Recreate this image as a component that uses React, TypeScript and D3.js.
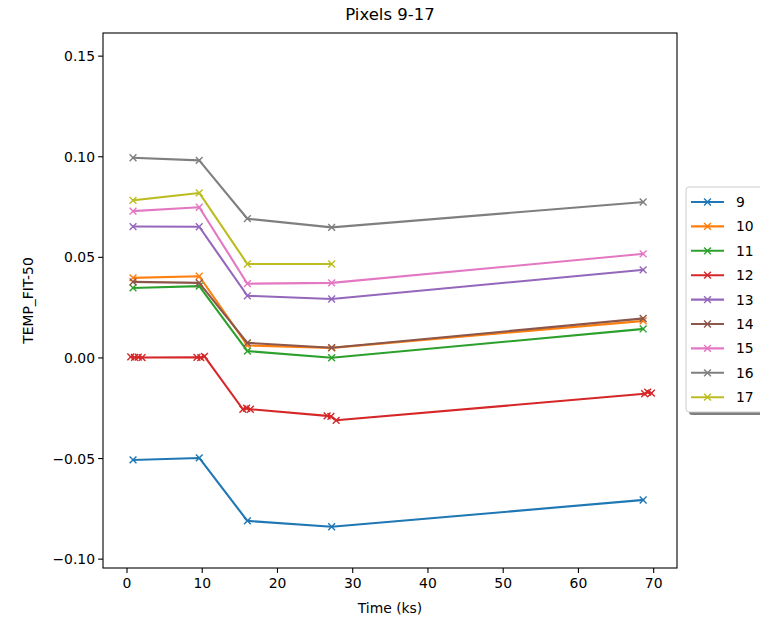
import React from "react";
import * as d3 from "d3";

const TITLE = "Pixels 9-17";
const X_LABEL = "Time (ks)";
const Y_LABEL = "TEMP_FIT-50";

const seriesNames = ["9", "10", "11", "12", "13", "14", "15", "16", "17"];
const colors = ["#1f77b4", "#ff7f0e", "#2ca02c", "#d62728", "#9467bd", "#8c564b", "#e377c2", "#7f7f7f", "#bcbd22"];

const timesStd = [0.8, 9.6, 16.0, 27.2, 68.6];
const times17 = [0.8, 9.6, 16.0, 27.2];
const times12 = [0.5, 1.0, 1.5, 2.0, 9.3, 9.8, 10.3, 15.4, 15.9, 16.4, 26.6, 27.1, 27.8, 68.8, 69.2, 69.7];

const vals9 = [-0.0507, -0.0497, -0.081, -0.0839, -0.0706];
const vals10 = [0.0398, 0.0406, 0.0062, 0.005, 0.0184];
const vals11 = [0.0348, 0.0357, 0.0034, 0.0001, 0.0144];
const vals12 = [0.0005, 0.0003, 0.0004, 0.0002, 0.0003, 0.0002, 0.0008, -0.0255, -0.025, -0.0255, -0.0288, -0.029, -0.031, -0.0178, -0.017, -0.0175];
const vals13 = [0.0653, 0.0652, 0.0309, 0.0293, 0.0438];
const vals14 = [0.0378, 0.0373, 0.0075, 0.0051, 0.0196];
const vals15 = [0.073, 0.0749, 0.0369, 0.0373, 0.0517];
const vals16 = [0.0995, 0.0982, 0.0692, 0.0649, 0.0775];
const vals17 = [0.0783, 0.082, 0.0467, 0.0467];

const xTicks = [0, 10, 20, 30, 40, 50, 60, 70];
const yTicks = [-0.1, -0.05, 0, 0.05, 0.1, 0.15];

const seriesTimes = [timesStd, timesStd, timesStd, times12, timesStd, timesStd, timesStd, timesStd, times17];
const seriesVals = [vals9, vals10, vals11, vals12, vals13, vals14, vals15, vals16, vals17];

const W = 760, H = 620;
const L = 103, R = 677, T = 33, B = 568;
const FONT = "DejaVu Sans, sans-serif";

export default function App() {
  const x = d3.scaleLinear().domain([-3.19, 73.1]).range([L, R]);
  const y = d3.scaleLinear().domain([-0.1044, 0.1615]).range([B, T]);
  const line = d3.line<[number, number]>().x((d) => x(d[0])).y((d) => y(d[1]));
  const ms = 3.4;
  const marker = (cx: number, cy: number, c: string, k: string) => (
    <path key={k} d={`M${cx - ms},${cy - ms}L${cx + ms},${cy + ms}M${cx - ms},${cy + ms}L${cx + ms},${cy - ms}`} stroke={c} strokeWidth={1.4} fill="none" />
  );
  const legX = 686, legY = 187, legH = 225, legW = 82, rowH = 24.4;
  return (
    <svg width={W} height={H} style={{ position: "absolute", left: 0, top: 0 }} fontFamily={FONT}>
      <rect x={0} y={0} width={W} height={H} fill="#fff" />
      <text x={(L + R) / 2} y={20} textAnchor="middle" fontSize={16.5} fill="#000">{TITLE}</text>
      <defs>
        <clipPath id="plotclip"><rect x={L} y={T} width={R - L} height={B - T} /></clipPath>
      </defs>
      <g clipPath="url(#plotclip)">
        {seriesVals.map((vals, i) => {
          const pts: [number, number][] = vals.map((v, j) => [seriesTimes[i][j], v]);
          return (
            <g key={i}>
              <path d={line(pts) || ""} stroke={colors[i]} strokeWidth={2.1} fill="none" strokeLinejoin="round" strokeLinecap="square" />
              {pts.map((p, j) => marker(x(p[0]), y(p[1]), colors[i], `${i}-${j}`))}
            </g>
          );
        })}
      </g>
      <rect x={L} y={T} width={R - L} height={B - T} fill="none" stroke="#000" strokeWidth={1.1} />
      {xTicks.map((t) => (
        <g key={t}>
          <line x1={x(t)} x2={x(t)} y1={B} y2={B + 4.9} stroke="#000" strokeWidth={1.1} />
          <text x={x(t)} y={B + 20} textAnchor="middle" fontSize={13.9} fill="#000">{t}</text>
        </g>
      ))}
      {yTicks.map((t) => (
        <g key={t}>
          <line x1={L - 4.9} x2={L} y1={y(t)} y2={y(t)} stroke="#000" strokeWidth={1.1} />
          <text x={L - 8} y={y(t) + 5} textAnchor="end" fontSize={13.9} fill="#000">{t < 0 ? "\u2212" + Math.abs(t).toFixed(2) : t.toFixed(2)}</text>
        </g>
      ))}
      <text x={(L + R) / 2} y={613} textAnchor="middle" fontSize={13.9} fill="#000">{X_LABEL}</text>
      <text transform={`translate(33,${(T + B) / 2}) rotate(-90)`} textAnchor="middle" fontSize={13.9} fill="#000">{Y_LABEL}</text>
      <rect x={legX + 3} y={legY + 3} width={legW} height={legH} rx={3} fill="#000" opacity={0.5} />
      <rect x={legX} y={legY} width={legW} height={legH} rx={3} fill="#fff" stroke="#ccc" strokeWidth={1} />
      {seriesNames.map((n, i) => {
        const cy = legY + 15 + i * rowH;
        return (
          <g key={n}>
            <line x1={legX + 5} x2={legX + 38} y1={cy} y2={cy} stroke={colors[i]} strokeWidth={2.1} />
            {marker(legX + 21.5, cy, colors[i], "leg" + i)}
            <text x={legX + 50} y={cy + 5} fontSize={13.9} fill="#000">{n}</text>
          </g>
        );
      })}
    </svg>
  );
}
